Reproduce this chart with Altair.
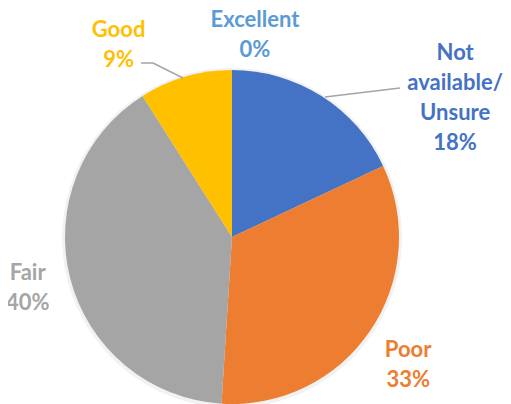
import math
import altair as alt
import pandas as pd

categories = ["Not available/Unsure", "Poor", "Fair", "Good", "Excellent"]
values = [18, 33, 40, 9, 0]
label_lines = ["Not\navailable/\nUnsure", "Poor", "Fair", "Good", "Excellent"]

slice_colors = ["#4472C4", "#ED7D31", "#A5A5A5", "#FFC000", "#5B9BD5"]
text_colors = ["#4472C4", "#ED7D31", "#A5A5A5", "#FFC000", "#5B9BD5"]

df = pd.DataFrame({
    "category": categories,
    "value": values,
    "idx": list(range(len(categories))),
    "label": [f"{l}\n{v}%" for l, v in zip(label_lines, values)],
})

CX, CY, R = 224, 229, 167
LR = 213
FONT = "Lato"
FS = 22
LH = 30

# label nudges (dx, dy) relative to the slice mid-angle point at radius LR
nudges = {
    "Not available/Unsure": (109, -4),
    "Poor": (0, -7),
    "Fair": (2, -17),
    "Good": (-54, -2),
    "Excellent": (23, -4),
}

base = alt.Chart(df)

shadow = base.mark_arc(radius=170, color="#000000", opacity=0.05).encode(
    theta=alt.Theta("value:Q", stack=True),
    order=alt.Order("idx:Q"),
    x=alt.value(CX), y=alt.value(CY + 1),
)

pie = base.mark_arc(radius=R).encode(
    theta=alt.Theta("value:Q", stack=True),
    color=alt.Color("category:N", scale=alt.Scale(domain=categories, range=slice_colors), legend=None),
    order=alt.Order("idx:Q"),
    x=alt.value(CX), y=alt.value(CY),
)

layers = [shadow, pie]

# leader lines
lines = [
    ((133, 55), (145, 55)),
    ((145, 55), (175, 70)),
    ((392, 80), (317, 89)),
]
for (x1, y1), (x2, y2) in lines:
    layers.append(
        alt.Chart(pd.DataFrame({"a": [0]})).mark_rule(color="#A5A5A5", strokeWidth=1.5).encode(
            x=alt.value(x1), y=alt.value(y1), x2=alt.value(x2), y2=alt.value(y2)
        )
    )

for cat, col in zip(categories, text_colors):
    dx, dy = nudges[cat]
    t = (
        base.transform_window(cum="sum(value)", sort=[alt.SortField("idx")], frame=[None, 0])
        .transform_calculate(mid="datum.cum - datum.value / 2")
        .transform_filter(alt.datum.category == cat)
        .mark_text(
            radius=LR, dx=dx, dy=dy, font=FONT, fontSize=FS, fontWeight="bold",
            color=col, lineBreak="\n", lineHeight=LH, align="center", baseline="middle",
        )
        .encode(
            theta=alt.Theta("mid:Q", stack=False, scale=alt.Scale(domain=[0, 100], range=[0, 2 * math.pi])),
            text="label:N",
            x=alt.value(CX), y=alt.value(CY),
        )
    )
    layers.append(t)

chart = (
    alt.layer(*layers)
    .resolve_scale(theta="independent")
    .properties(width=495, height=396, autosize=alt.AutoSizeParams(type="none"), padding=0)
    .configure_view(stroke=None)
)

chart.save("out.html", embed_options={"renderer": "svg", "actions": False})
